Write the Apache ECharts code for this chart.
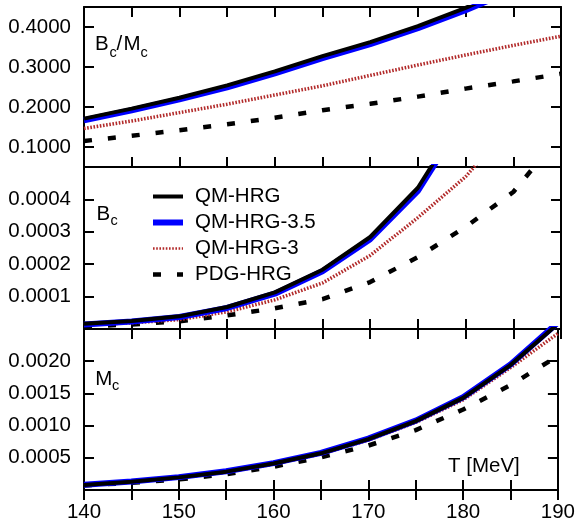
<!DOCTYPE html>
<html><head><meta charset="utf-8">
<script src="https://cdn.jsdelivr.net/npm/echarts@6/dist/echarts.min.js"></script>
<style>html,body{margin:0;padding:0;background:#fff}#c{width:578px;height:524px}</style>
</head><body><div id="c"></div>
<script>
// Temperature grid (MeV)
const T = [140, 145, 150, 155, 160, 165, 170, 175, 180, 185, 190];
const seriesNames = ['QM-HRG', 'QM-HRG-3.5', 'QM-HRG-3', 'PDG-HRG'];

// Panel 1: B_c / M_c
const ratioQM   = [0.171, 0.196, 0.223, 0.254, 0.289, 0.327, 0.362, 0.402, 0.448, 0.500];
const ratioQM35 = [0.167, 0.192, 0.219, 0.249, 0.284, 0.322, 0.357, 0.397, 0.442, 0.492];
const ratioQM3  = [0.146, 0.165, 0.186, 0.207, 0.230, 0.253, 0.279, 0.305, 0.330, 0.354, 0.377];
const ratioPDG  = [0.115, 0.128, 0.142, 0.157, 0.173, 0.192, 0.208, 0.226, 0.246, 0.264, 0.283];

// Panel 2: B_c
const bQM   = [0.000016, 0.000025, 0.000039, 0.000068, 0.000113, 0.000183, 0.000284, 0.000436, 0.000670];
const bQM35 = [0.000014, 0.000023, 0.000037, 0.000065, 0.000109, 0.000178, 0.000277, 0.000426, 0.000660];
const bQM3  = [0.000013, 0.000019, 0.000029, 0.000053, 0.000090, 0.000142, 0.000227, 0.000344, 0.000470, 0.000640];
const bPDG  = [0.000008, 0.000014, 0.000024, 0.000042, 0.000064, 0.000092, 0.000145, 0.000222, 0.000315, 0.000423, 0.000600];

// Panel 3: M_c
const mQM   = [0.000078, 0.000128, 0.000196, 0.000285, 0.000412, 0.000570, 0.000790, 0.001070, 0.001430, 0.001940, 0.002580];
const mQM35 = [0.000082, 0.000132, 0.000200, 0.000290, 0.000418, 0.000577, 0.000797, 0.001078, 0.001440, 0.001950, 0.002600];
const mQM3  = [0.000074, 0.000124, 0.000190, 0.000278, 0.000403, 0.000560, 0.000775, 0.001050, 0.001400, 0.001900, 0.002430];
const mPDG  = [0.000070, 0.000112, 0.000165, 0.000245, 0.000362, 0.000507, 0.000690, 0.000930, 0.001250, 0.001630, 0.002080];

// Tick labels
const xLabels = [140, 150, 160, 170, 180, 190];
const yTicks = [
  [0.1, 0.2, 0.3, 0.4],
  [0.0001, 0.0002, 0.0003, 0.0004],
  [0.0005, 0.0010, 0.0015, 0.0020]
];
const yRanges = [[0.05, 0.45], [0, 0.0005], [0, 0.0025]];

const FONT = '"Liberation Sans", Arial, Helvetica, sans-serif';
const panels = [
  [ratioQM, ratioQM35, ratioQM3, ratioPDG],
  [bQM, bQM35, bQM3, bPDG],
  [mQM, mQM35, mQM3, mPDG]
];
const gridPos = [
  {top: 7, height: 160},
  {top: 167, height: 162},
  {top: 329, height: 161}
];
const styles = {
  'QM-HRG':     {color: '#000000', width: 4, type: 'solid', z: 4},
  'QM-HRG-3.5': {color: '#0000ff', width: 6, type: 'solid', z: 3},
  'QM-HRG-3':   {color: '#b22a2a', width: 3.5, type: [1.6, 1.6], z: 2},
  'PDG-HRG':    {color: '#000000', width: 4.5, type: [8, 16], z: 1}
};
const tickStyle = {inside: true, length: 10, lineStyle: {color: '#000', width: 2}};
const lineAx = {show: true, lineStyle: {color: '#000', width: 2}};

const grid = [], xAxis = [], yAxis = [], series = [];
gridPos.forEach((g, p) => {
  grid.push({left: 84, right: 17, top: g.top, height: g.height, containLabel: false});
  xAxis.push({
    gridIndex: p, type: 'value', min: 140, max: 190, interval: 5, position: 'bottom',
    axisLine: lineAx, axisTick: tickStyle, splitLine: {show: false},
    axisLabel: {
      show: p === 2, margin: 12, color: '#000', fontSize: 20.5, fontFamily: FONT,
      formatter: v => (xLabels.indexOf(v) >= 0 ? String(v) : '')
    }
  });
  xAxis.push({
    gridIndex: p, type: 'value', min: 140, max: 190, interval: 5, position: 'top',
    axisLine: lineAx, axisTick: tickStyle, splitLine: {show: false}, axisLabel: {show: false}
  });
  const common = {
    gridIndex: p, type: 'value', min: yRanges[p][0], max: yRanges[p][1],
    axisLine: lineAx, splitLine: {show: false},
    axisTick: Object.assign({customValues: yTicks[p]}, tickStyle)
  };
  yAxis.push(Object.assign({}, common, {
    position: 'left',
    axisLabel: {customValues: yTicks[p], margin: 13, color: '#000', fontSize: 20.5, fontFamily: FONT,
      formatter: v => v.toFixed(4)}
  }));
  yAxis.push(Object.assign({}, common, {position: 'right', axisLabel: {show: false}}));

  seriesNames.forEach((name, k) => {
    const vals = panels[p][k];
    const st = styles[name];
    series.push({
      name, type: 'line', xAxisIndex: 2 * p, yAxisIndex: 2 * p,
      data: vals.map((v, i) => [T[i], v]),
      symbol: 'none', z: st.z, clip: true,
      lineStyle: {color: st.color, width: st.width, type: st.type, cap: 'butt'},
      itemStyle: {color: st.color}
    });
  });
});

function txt(str, x, y, size) {
  return {type: 'text', x, y, style: {text: str, fill: '#000', font: size + 'px ' + FONT, verticalAlign: 'middle', align: 'left'}};
}

const option = {
  animation: false,
  backgroundColor: '#fff',
  grid, xAxis, yAxis, series,
  legend: {
    orient: 'vertical', left: 150, top: 186, padding: 0, itemWidth: 30, itemHeight: 14, itemGap: 5,
    textStyle: {fontFamily: FONT, fontSize: 20.5, color: '#000', lineHeight: 20, padding: [0, 0, 0, 7]},
    data: ['QM-HRG', 'QM-HRG-3.5', 'QM-HRG-3', 'PDG-HRG'].map(n => ({
      name: n,
      lineStyle: {color: styles[n].color, width: n === 'QM-HRG-3' ? 2.5 : styles[n].width, type: styles[n].type},
      itemStyle: {color: styles[n].color, opacity: 0}
    }))
  },
  graphic: [
    // B_c / M_c (top panel)
    txt('B', 95, 44.5, 20.5), txt('c', 109.5, 52.7, 14.5), txt('/', 116.5, 44.5, 20.5),
    txt('M', 123.5, 44.5, 20.5), txt('c', 140.5, 52.7, 14.5),
    // B_c (middle panel)
    txt('B', 96.5, 214.7, 20.5), txt('c', 110.5, 220.7, 14.5),
    // M_c (bottom panel)
    txt('M', 95.3, 379.4, 20.5), txt('c', 112, 386, 14.5),
    // axis title
    txt('T [MeV]', 448, 466, 20.5)
  ]
};
const chart = echarts.init(document.getElementById('c'), null, {renderer: 'canvas'});
chart.setOption(option);
</script>
</body></html>
